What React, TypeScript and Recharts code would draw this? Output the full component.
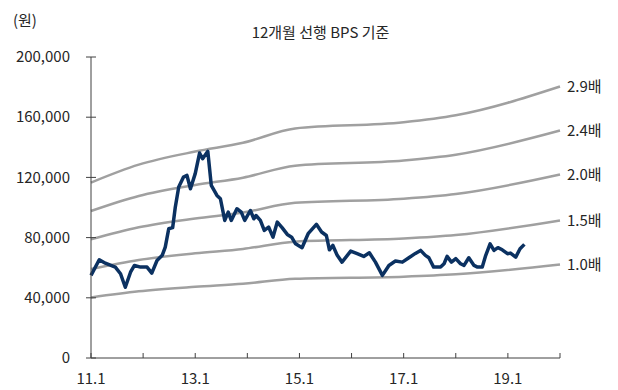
import { LineChart, Line, XAxis, YAxis } from "recharts";

const title = "12개월 선행 BPS 기준";
const unitLabel = "(원)";

// months since 2011.1
const xTicks = [0, 12, 24, 36, 48, 60, 72, 84, 96, 108];
const xTickLabels = ["11.1", "", "13.1", "", "15.1", "", "17.1", "", "19.1", ""];
const yTicks = [0, 40000, 80000, 120000, 160000, 200000];

// 12M forward BPS (won)
const bpsMonths = [0, 11, 24, 35, 47, 72, 84, 108];
const bpsValues = [40200, 44300, 47300, 49300, 52600, 54000, 55600, 62200];
// band multiples (labels are rounded)
const multiples = [2.9, 2.43, 1.96, 1.47, 1.0];
const multipleLabels = ["2.9배", "2.4배", "2.0배", "1.5배", "1.0배"];

// share price (won)
const priceMonths = [
  0, 1.9, 3.3, 5.6, 6.8, 7.9, 9.1, 10, 11.4, 12.9, 14, 15.2, 16.4, 17.1, 17.9, 18.8,
  19.4, 20.2, 21.3, 22.1, 22.9, 24, 25, 25.7, 26.9, 27.7, 29, 29.8, 30.8, 31.6, 32.3,
  33.6, 34.6, 35.4, 36.7, 37.5, 38, 39, 39.9, 40.9, 41.9, 42.9, 44, 45.2, 46.2, 47.1,
  48.6, 50, 51.9, 53.1, 54.2, 54.9, 55.7, 56.7, 57.8, 59.8, 61.3, 62.8, 64.1, 65.5,
  67.1, 68.6, 70.1, 71.7, 73.2, 74.7, 75.9, 77, 77.8, 78.9, 80.5, 81.3, 82, 83, 84,
  85.1, 85.9, 87, 88.2, 89, 90.1, 90.9, 91.9, 92.8, 93.7, 94.7, 95.9, 96.6, 97.8,
  98.8, 99.8,
];
const priceValues = [
  54900, 65300, 63000, 60400, 56000, 47000, 57000, 61500, 60400, 60400, 56400, 64800,
  68200, 73700, 85900, 86600, 100000, 113600, 120200, 121300, 112500, 122500, 136200,
  132400, 137300, 114700, 108000, 105800, 91400, 96900, 91400, 99200, 96900, 91400,
  98000, 92500, 94700, 91400, 84800, 87000, 80300, 90300, 86600, 82100, 80300, 75900,
  73300, 82600, 88800, 83700, 81400, 71900, 74800, 68200, 63700, 71000, 69300, 67500,
  69900, 63700, 54900, 61500, 64400, 63700, 66600, 69500, 71500, 68200, 66600, 60400,
  60400, 62600, 67500, 63700, 66000, 62600, 61500, 66600, 61500, 60400, 60400, 68200,
  75900, 71500, 73300, 71900, 69300, 69700, 67000, 72600, 75500,
];

const priceData = priceMonths.map((m, i) => ({ m, v: priceValues[i] }));
const bandData = multiples.map((k) =>
  bpsMonths.map((m, i) => ({ m, v: bpsValues[i] * k }))
);

const FONT = '"Noto Sans CJK KR", "Noto Sans", sans-serif';
const AXIS = "#404040";
const TEXT = "#262626";
const BAND = "#a0a0a0";
const PRICE = "#0b3161";

const YTick = (props: any) => {
  const { x, y, payload } = props;
  return (
    <g>
      <line x1={x - 5} x2={x + 5} y1={y} y2={y} stroke={AXIS} strokeWidth={1} />
      <text x={x - 21} y={y} dy="0.35em" textAnchor="end" fontSize={15} fill={TEXT} fontFamily={FONT}>
        {payload.value.toLocaleString("en-US")}
      </text>
    </g>
  );
};

const XTick = (props: any) => {
  const { x, y, index } = props;
  return (
    <g>
      <line x1={x} x2={x} y1={y} y2={y - 5} stroke={AXIS} strokeWidth={1} />
      <text x={x} y={y + 26} textAnchor="middle" fontSize={15} fill={TEXT} fontFamily={FONT}>
        {xTickLabels[index]}
      </text>
    </g>
  );
};

const bandLabel = (text: string, last: number) => (p: any) => {
  if (p.index !== last) return <g />;
  return (
    <text x={p.x + 7} y={p.y} dy="0.35em" fontSize={15} fill={TEXT} fontFamily={FONT}>
      {text}
    </text>
  );
};

export default function App() {
  return (
    <div style={{ position: "absolute", left: 0, top: 0, width: 618, height: 390, background: "#fff", fontFamily: FONT }}>
      <div style={{ position: "absolute", left: 0, top: 20, width: 641, textAlign: "center", fontSize: 15, color: TEXT, lineHeight: "24px" }}>
        {title}
      </div>
      <div style={{ position: "absolute", left: 13, top: 8, fontSize: 15, color: TEXT, lineHeight: "24px" }}>
        {unitLabel}
      </div>
      <LineChart width={618} height={390} margin={{ top: 57, right: 58, bottom: 0, left: 0 }}>
        <XAxis
          type="number"
          dataKey="m"
          domain={[0, 108]}
          ticks={xTicks}
          interval={0}
          height={32}
          tickSize={0}
          tickMargin={0}
          tick={<XTick />}
          tickLine={false}
          axisLine={{ stroke: AXIS, strokeWidth: 1 }}
        />
        <YAxis
          type="number"
          domain={[0, 200000]}
          ticks={yTicks}
          interval={0}
          width={91}
          tickSize={0}
          tickMargin={0}
          tick={<YTick />}
          tickLine={false}
          axisLine={{ stroke: AXIS, strokeWidth: 1 }}
        />
        {bandData.map((d, i) => (
          <Line
            key={multipleLabels[i]}
            data={d}
            dataKey="v"
            type="monotone"
            stroke={BAND}
            strokeWidth={2.5}
            dot={false}
            activeDot={false}
            isAnimationActive={false}
            label={bandLabel(multipleLabels[i], d.length - 1)}
          />
        ))}
        <Line
          data={priceData}
          dataKey="v"
          type="linear"
          stroke={PRICE}
          strokeWidth={3.5}
          strokeLinejoin="round"
          dot={false}
          activeDot={false}
          isAnimationActive={false}
        />
      </LineChart>
    </div>
  );
}
